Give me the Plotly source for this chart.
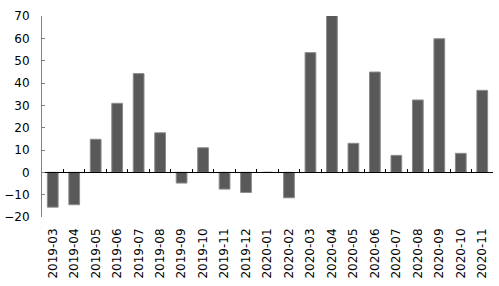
import plotly.graph_objects as go

categories = ["2019-03", "2019-04", "2019-05", "2019-06", "2019-07", "2019-08", "2019-09",
              "2019-10", "2019-11", "2019-12", "2020-01", "2020-02", "2020-03", "2020-04",
              "2020-05", "2020-06", "2020-07", "2020-08", "2020-09", "2020-10", "2020-11"]
values = [-15.6, -14.5, 14.8, 30.9, 44.2, 17.7, -4.8, 11.0, -7.5, -9.0, 0.0, -11.4,
          53.6, 70.3, 13.0, 44.9, 7.6, 32.4, 59.8, 8.5, 36.7]
y_ticks = [-20, -10, 0, 10, 20, 30, 40, 50, 60, 70]

Y_MIN, Y_MAX = -20, 70

fig = go.Figure()
fig.add_trace(go.Bar(
    x=categories, y=values, width=0.5,
    marker=dict(color="#595959", line=dict(color="#8a8a8a", width=1)),
    showlegend=False, hoverinfo="x+y",
))
# helper trace for the zero-crossing category axis
fig.add_trace(go.Scatter(x=categories, y=[0] * len(categories), xaxis="x2",
                         mode="lines", line=dict(width=0), showlegend=False,
                         hoverinfo="skip"))

font = dict(family="DejaVu Sans, Arial, sans-serif", size=12, color="#000000")

fig.update_layout(
    width=499, height=286,
    margin=dict(l=42, r=6, t=16, b=69),
    paper_bgcolor="white", plot_bgcolor="white",
    font=font,
    bargap=0.5,
    xaxis=dict(
        type="category", categoryorder="array", categoryarray=categories,
        range=[-0.5, len(categories) - 0.5],
        showline=False, showgrid=False, zeroline=False, ticks="",
        tickangle=-90, tickfont=font, ticklabelstandoff=8, automargin=False,
    ),
    xaxis2=dict(
        type="category", categoryorder="array", categoryarray=categories,
        range=[-0.5, len(categories) - 0.5],
        overlaying="x", anchor="free",
        position=(0 - Y_MIN) / (Y_MAX - Y_MIN),
        showline=True, linecolor="#000000", linewidth=1,
        ticks="inside", ticklen=3, tickcolor="#000000", tickson="boundaries",
        showticklabels=False, showgrid=False, zeroline=False, automargin=False,
    ),
    yaxis=dict(
        range=[Y_MIN, Y_MAX], tickvals=y_ticks,
        showline=True, linecolor="#808080", linewidth=1,
        ticks="inside", ticklen=3, tickcolor="#808080",
        showgrid=False, zeroline=False, tickfont=font, ticklabelstandoff=9,
        automargin=False,
    ),
)

fig.write_html("out.html")
